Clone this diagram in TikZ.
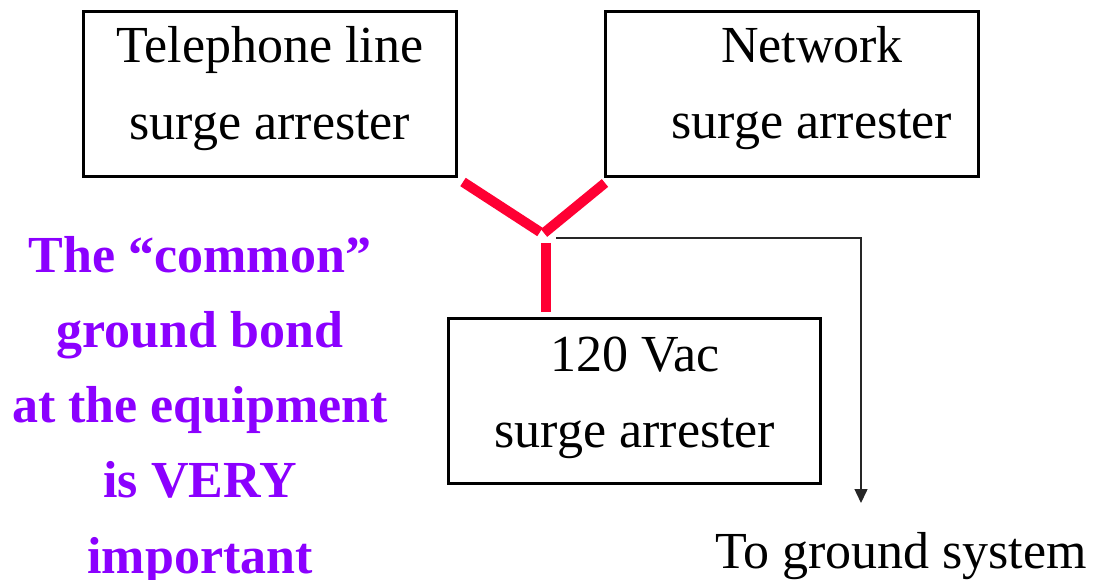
\documentclass[tikz,border=0pt]{standalone}
\usepackage{fontspec}
\setmainfont{Liberation Serif}
\usetikzlibrary{arrows.meta}
\definecolor{bondred}{HTML}{FF0033}
\definecolor{violetx}{HTML}{8B00FF}
\begin{document}
\begin{tikzpicture}[x=1pt,y=1pt,
  box/.style={draw=black,line width=3pt,minimum width=373pt,minimum height=165pt,inner sep=0pt},
  txt/.style={anchor=base,inner sep=0pt,font=\fontsize{52}{76}\selectfont},
  note/.style={anchor=base,inner sep=0pt,text=violetx,font=\fontsize{52}{76}\selectfont\bfseries},
  bond/.style={draw=bondred,line width=10pt,line cap=butt},
  gnd/.style={draw=black!85,line width=1.5pt,-{Triangle[width=13pt,length=14pt]}}]
\useasboundingbox (0,0) rectangle (1099,579);
% boxes
\node[box] (tel) at (269.5,484.5) {};
\node[box] (net) at (791.5,484.5) {};
\node[box,minimum width=372pt] (ac) at (634,178.5) {};
% box texts
\node[txt] (tel1) at (270,516) {Telephone line};
\node[txt] (tel2) at (270,439) {surge arrester};
\node[txt] (net1) at (812,516) {Network};
\node[txt] (net2) at (812,440) {surge arrester};
\node[txt] (ac1) at (635,208) {120 Vac};
\node[txt] (ac2) at (635,132) {surge arrester};
\node[txt] (gs) at (901,11) {To ground system};
% note
\node[note] (n1) at (200,307) {The “common”};
\node[note] (n2) at (200,232) {ground bond};
\node[note] (n3) at (200,157) {at the equipment};
\node[note] (n4) at (200,82) {is VERY};
\node[note] (n5) at (200,6) {important};
% bond
\coordinate (a1) at (463,397);
\coordinate (a2) at (540,347);
\coordinate (b1) at (605,396);
\coordinate (b2) at (544,346);
\coordinate (c1) at (546,336);
\coordinate (c2) at (546,267);
\draw[bond] (a1) -- (a2);
\draw[bond] (b1) -- (b2);
\draw[bond] (c1) -- (c2);
% ground lead
\coordinate (g0) at (556,341);
\coordinate (g1) at (861,341);
\coordinate (g2) at (861,76);
\draw[gnd] (g0) -- (g1) -- (g2);
\end{tikzpicture}
\end{document}
